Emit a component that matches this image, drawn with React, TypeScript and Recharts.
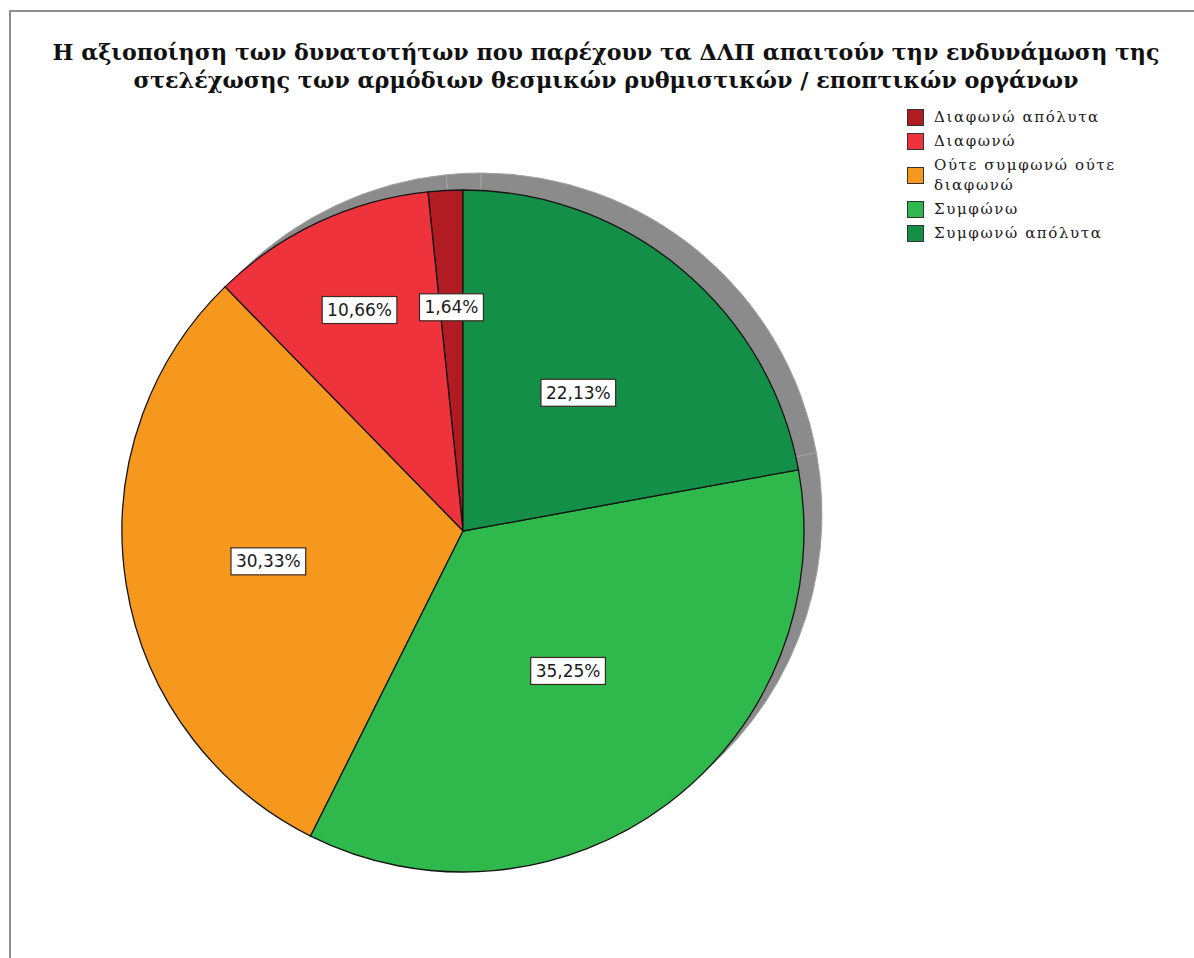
import React from 'react';
import { PieChart, Pie, Cell } from 'recharts';

// categories in legend order, values in percent (n = 122)
const categories = [
  'Διαφωνώ απόλυτα',
  'Διαφωνώ',
  'Ούτε συμφωνώ ούτε διαφωνώ',
  'Συμφώνω',
  'Συμφωνώ απόλυτα',
];
const percentages = [1.64, 10.66, 30.33, 35.25, 22.13];
const colors = ['#b01c22', '#ef333d', '#f7981e', '#2fb84b', '#138f48'];

const titleLines = [
  'Η αξιοποίηση των δυνατοτήτων που παρέχουν τα ΔΛΠ απαιτούν την ενδυνάμωση της',
  'στελέχωσης των αρμόδιων θεσμικών ρυθμιστικών / εποπτικών οργάνων',
];

const data = categories.map((name, i) => ({ name, value: percentages[i] }));

// label distance from centre, per slice (as placed in the original)
const labelRadius = [224, 244, 197, 175, 180];

const RADIAN = Math.PI / 180;

const charWidth = (c: string) => (c === ',' ? 5.4 : c === '%' ? 16.1 : 10.8);

const renderLabel = (props: any) => {
  const { cx, cy, midAngle, index, value } = props;
  const r = labelRadius[index];
  const x = cx + r * Math.cos(-midAngle * RADIAN);
  const y = cy + r * Math.sin(-midAngle * RADIAN);
  const text = Number(value).toFixed(2).replace('.', ',') + '%';
  const w = text.split('').reduce((s, c) => s + charWidth(c), 0) + 10;
  const h = 27;
  return (
    <g>
      <rect x={x - w / 2} y={y - h / 2} width={w} height={h} fill="#ffffff" stroke="#3a2a20" strokeWidth={1.2} />
      <text
        x={x}
        y={y + 6}
        textAnchor="middle"
        fontFamily="'DejaVu Sans', Verdana, sans-serif"
        fontSize={17}
        fill="#1a1a1a"
      >
        {text}
      </text>
    </g>
  );
};

const App: React.FC = () => {
  return (
    <div style={{ position: 'absolute', left: 0, top: 0, width: 1194, height: 958, background: '#ffffff', overflow: 'hidden' }}>
      <div
        style={{
          position: 'absolute',
          left: 9,
          top: 10,
          width: 1300,
          height: 1100,
          borderLeft: '2px solid #8f8f8f',
          borderTop: '2px solid #8f8f8f',
        }}
      />
      <svg style={{ position: 'absolute', left: 0, top: 0 }} width={1194} height={110}>
        <text
          x={606}
          y={60}
          textAnchor="middle"
          fontFamily="'DejaVu Serif', serif"
          fontWeight="bold"
          fontSize={22}
          textLength={1107}
          lengthAdjust="spacingAndGlyphs"
          fill="#111"
        >
          {titleLines[0]}
        </text>
        <text
          x={606}
          y={88}
          textAnchor="middle"
          fontFamily="'DejaVu Serif', serif"
          fontWeight="bold"
          fontSize={22}
          textLength={945}
          lengthAdjust="spacingAndGlyphs"
          fill="#111"
        >
          {titleLines[1]}
        </text>
      </svg>

      <div style={{ position: 'absolute', left: 0, top: 0 }}>
        <PieChart width={1194} height={958} margin={{ top: 0, right: 0, bottom: 0, left: 0 }}>
          {/* drop shadow */}
          <Pie
            data={data}
            dataKey="value"
            cx={481}
            cy={514}
            outerRadius={341}
            startAngle={90}
            endAngle={450}
            fill="#8b8b8b"
            stroke="#a3a3a3"
            strokeWidth={1}
            isAnimationActive={false}
            legendType="none"
          />
          <Pie
            data={data}
            dataKey="value"
            cx={463}
            cy={531}
            outerRadius={341}
            startAngle={90}
            endAngle={450}
            stroke="#141414"
            strokeWidth={1.3}
            label={renderLabel}
            labelLine={false}
            isAnimationActive={false}
          >
            {data.map((d, i) => (
              <Cell key={d.name} fill={colors[i]} />
            ))}
          </Pie>
        </PieChart>
      </div>

      <div
        style={{
          position: 'absolute',
          left: 907,
          top: 107,
          width: 250,
          fontFamily: "'DejaVu Serif', serif",
          fontSize: 15,
          letterSpacing: 1.6,
          color: '#1a1a1a',
        }}
      >
        {categories.map((c, i) => (
          <div key={c} style={{ display: 'flex', alignItems: 'center', marginBottom: 4 }}>
            <div
              style={{
                width: 15,
                height: 15,
                flex: '0 0 auto',
                background: colors[i],
                border: '1px solid #333',
                marginRight: 10,
              }}
            />
            <div style={{ lineHeight: '20px', width: 195 }}>{c}</div>
          </div>
        ))}
      </div>
    </div>
  );
};

export default App;
